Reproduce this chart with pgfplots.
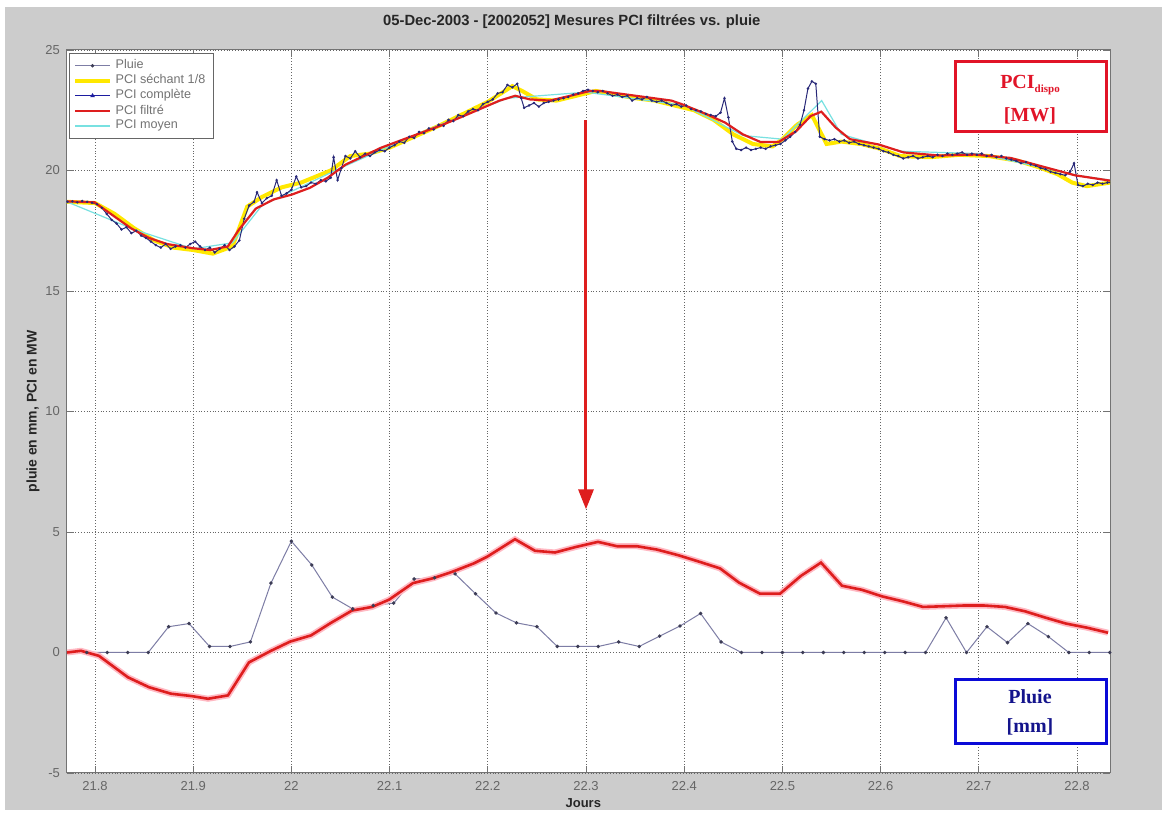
\documentclass[border=0pt]{standalone}
\usepackage{fontspec}
\setmainfont{Liberation Sans}
\newfontfamily\serifbf{Liberation Serif}
\usepackage{pgfplots}
\pgfplotsset{compat=1.18}
\usetikzlibrary{arrows.meta}
\definecolor{figgray}{RGB}{204,204,204}
\definecolor{pluiec}{RGB}{125,125,165}
\definecolor{pluiem}{RGB}{60,60,85}
\definecolor{sechc}{RGB}{255,232,0}
\definecolor{compc}{RGB}{40,40,120}
\definecolor{filtc}{RGB}{222,30,30}
\definecolor{glowc}{RGB}{255,185,195}
\definecolor{moyc}{RGB}{120,225,225}
\definecolor{boxred}{RGB}{225,20,40}
\definecolor{boxblue}{RGB}{10,10,215}
\definecolor{txtblue}{RGB}{20,20,140}

\pgfplotstableread{
x y
21.7917 0
21.8125 0
21.8333 0
21.8542 0
21.8750 1.07
21.8958 1.20
21.9167 0.25
21.9375 0.25
21.9583 0.44
21.9792 2.88
22.0000 4.62
22.0208 3.63
22.0417 2.30
22.0625 1.81
22.0833 1.95
22.1042 2.05
22.1250 3.05
22.1458 3.10
22.1667 3.26
22.1875 2.44
22.2083 1.64
22.2292 1.23
22.2500 1.07
22.2708 0.25
22.2917 0.25
22.3125 0.25
22.3333 0.44
22.3542 0.25
22.3750 0.68
22.3958 1.10
22.4167 1.62
22.4375 0.44
22.4583 0
22.4792 0
22.5000 0
22.5208 0
22.5417 0
22.5625 0
22.5833 0
22.6042 0
22.6250 0
22.6458 0
22.6667 1.44
22.6875 0
22.7083 1.07
22.7292 0.41
22.7500 1.20
22.7708 0.66
22.7917 0
22.8125 0
22.8333 0
}\pluie

\pgfplotstableread{
x y
21.7715 0.00
21.7857 0.07
21.8041 -0.14
21.8336 -1.03
21.8550 -1.44
21.8774 -1.71
21.8988 -1.81
21.9151 -1.92
21.9354 -1.78
21.9568 -0.41
21.9792 0.07
21.9986 0.45
22.0200 0.71
22.0403 1.23
22.0617 1.74
22.0821 1.89
22.0994 2.19
22.1238 2.88
22.1442 3.08
22.1646 3.36
22.1859 3.70
22.1992 3.97
22.2277 4.70
22.2481 4.22
22.2684 4.15
22.2898 4.38
22.3122 4.59
22.3316 4.41
22.3519 4.41
22.3723 4.27
22.3937 4.04
22.4151 3.77
22.4365 3.49
22.4558 2.90
22.4772 2.44
22.4976 2.44
22.5189 3.18
22.5393 3.73
22.5607 2.77
22.5811 2.60
22.6014 2.33
22.6228 2.12
22.6432 1.89
22.6646 1.92
22.6849 1.95
22.7053 1.95
22.7267 1.89
22.7470 1.71
22.7684 1.44
22.7888 1.20
22.8102 1.03
22.8316 0.82
}\lowred

\pgfplotstableread{
x y
21.7715 18.70
21.800 18.65
21.820 18.20
21.840 17.60
21.860 17.10
21.880 16.80
21.900 16.70
21.920 16.55
21.940 16.85
21.955 18.50
21.970 18.90
21.990 19.30
22.010 19.50
22.040 20.00
22.060 20.60
22.080 20.70
22.100 20.95
22.125 21.40
22.150 21.85
22.175 22.35
22.200 22.85
22.225 23.50
22.235 23.30
22.250 22.95
22.270 22.90
22.290 23.10
22.310 23.30
22.330 23.15
22.350 23.00
22.370 22.90
22.390 22.70
22.410 22.50
22.430 22.10
22.450 21.50
22.470 21.10
22.490 21.00
22.500 21.30
22.515 21.90
22.530 22.30
22.545 21.10
22.560 21.20
22.580 21.10
22.600 20.90
22.620 20.60
22.650 20.55
22.680 20.65
22.710 20.60
22.740 20.40
22.760 20.15
22.780 19.85
22.795 19.50
22.810 19.35
22.834 19.50
}\sechant

\pgfplotstableread{
x y
21.7715 18.72
21.7995 18.68
21.8195 18.10
21.8368 17.60
21.8550 17.20
21.8733 16.95
21.8988 16.78
21.9170 16.70
21.9353 16.85
21.9465 17.54
21.9638 18.42
21.9820 18.80
22.0004 19.00
22.0188 19.28
22.0370 19.70
22.0554 20.25
22.0737 20.60
22.0910 20.94
22.1094 21.22
22.1280 21.50
22.1510 21.85
22.1720 22.20
22.1920 22.55
22.2120 22.90
22.2280 23.10
22.2430 22.95
22.2630 22.90
22.2840 23.10
22.3040 23.30
22.3143 23.30
22.3506 23.10
22.3870 22.90
22.3977 22.75
22.4232 22.33
22.4415 21.99
22.4597 21.50
22.4779 21.18
22.4961 21.18
22.5143 21.64
22.5288 22.26
22.5397 22.44
22.5543 21.78
22.5688 21.30
22.5980 21.08
22.6234 20.75
22.6598 20.62
22.6961 20.66
22.7325 20.52
22.7689 20.12
22.7980 19.80
22.8336 19.58
}\filtre

\pgfplotstableread{
x y
21.7715 18.70
21.840 17.55
21.900 16.75
21.940 17.00
21.970 18.55
22.050 20.10
22.130 21.55
22.220 23.00
22.300 23.25
22.400 22.70
22.460 21.45
22.500 21.30
22.540 22.90
22.560 21.50
22.620 20.80
22.700 20.70
22.800 19.80
22.834 19.60
}\moyen

\pgfplotstableread{
x y
21.772 18.70
21.777 18.72
21.782 18.68
21.787 18.73
21.792 18.70
21.797 18.66
21.802 18.60
21.807 18.45
21.812 18.20
21.817 17.95
21.822 17.80
21.827 17.55
21.832 17.65
21.837 17.40
21.842 17.50
21.847 17.30
21.852 17.20
21.857 17.05
21.862 16.90
21.867 16.80
21.872 16.95
21.877 16.75
21.882 16.85
21.887 16.90
21.892 16.80
21.897 16.95
21.902 17.05
21.907 16.85
21.912 16.70
21.917 16.80
21.922 16.60
21.927 16.75
21.932 16.90
21.937 16.70
21.942 16.85
21.947 17.10
21.952 18.00
21.957 18.55
21.962 18.70
21.965 19.10
21.970 18.65
21.975 18.85
21.980 18.95
21.985 19.60
21.990 18.95
21.995 19.05
22.000 19.20
22.005 19.75
22.010 19.30
22.015 19.35
22.020 19.50
22.025 19.45
22.030 19.60
22.035 19.55
22.040 19.70
22.043 20.55
22.047 19.60
22.051 20.10
22.055 20.60
22.060 20.50
22.065 20.80
22.070 20.55
22.075 20.70
22.080 20.60
22.085 20.75
22.090 20.85
22.095 20.80
22.100 20.95
22.105 21.05
22.110 21.20
22.115 21.15
22.120 21.40
22.125 21.35
22.130 21.60
22.135 21.55
22.140 21.75
22.145 21.70
22.150 21.90
22.155 21.85
22.160 22.10
22.165 22.05
22.170 22.30
22.175 22.25
22.180 22.45
22.185 22.55
22.190 22.50
22.195 22.75
22.200 22.85
22.205 22.95
22.210 23.20
22.215 23.25
22.220 23.55
22.225 23.45
22.230 23.60
22.234 23.00
22.237 22.60
22.242 22.70
22.247 22.80
22.252 22.65
22.257 22.80
22.262 22.85
22.267 22.90
22.272 22.95
22.277 23.00
22.282 23.05
22.287 23.15
22.292 23.20
22.297 23.30
22.302 23.35
22.307 23.30
22.312 23.25
22.317 23.30
22.322 23.20
22.327 23.10
22.332 23.15
22.337 23.05
22.342 23.10
22.347 22.90
22.352 23.00
22.357 22.95
22.362 23.05
22.367 22.90
22.372 22.85
22.377 22.90
22.382 22.80
22.387 22.70
22.392 22.75
22.397 22.65
22.402 22.70
22.407 22.55
22.412 22.50
22.417 22.45
22.422 22.35
22.427 22.30
22.432 22.25
22.437 22.40
22.441 23.00
22.445 22.20
22.449 21.20
22.453 20.90
22.458 20.85
22.463 20.95
22.468 20.85
22.473 20.90
22.478 20.95
22.483 20.90
22.488 21.00
22.493 21.05
22.498 21.10
22.503 21.25
22.508 21.40
22.513 21.60
22.518 21.90
22.522 22.50
22.526 23.40
22.530 23.70
22.534 23.60
22.538 21.40
22.543 21.30
22.548 21.25
22.553 21.30
22.558 21.20
22.563 21.25
22.568 21.15
22.573 21.20
22.578 21.10
22.583 21.05
22.588 21.00
22.593 20.95
22.598 20.90
22.603 20.80
22.608 20.75
22.613 20.65
22.618 20.60
22.623 20.50
22.628 20.55
22.633 20.60
22.638 20.50
22.643 20.55
22.648 20.60
22.653 20.55
22.658 20.65
22.663 20.60
22.668 20.70
22.673 20.65
22.678 20.70
22.683 20.75
22.688 20.65
22.693 20.70
22.698 20.65
22.703 20.70
22.708 20.60
22.713 20.65
22.718 20.55
22.723 20.60
22.728 20.50
22.733 20.45
22.738 20.40
22.743 20.30
22.748 20.35
22.753 20.25
22.758 20.20
22.763 20.10
22.768 20.05
22.773 19.95
22.778 19.90
22.783 19.85
22.788 19.80
22.793 19.95
22.797 20.30
22.801 19.40
22.806 19.35
22.811 19.45
22.816 19.40
22.821 19.50
22.826 19.45
22.831 19.50
22.834 19.50
}\complete

\begin{document}
\begin{tikzpicture}
% figure background (image pixel frame 1162 x 810, 1 px = 0.5pt)
\fill[white] (-33.5pt,-18.5pt) rectangle (547.5pt,386.5pt);
\fill[figgray] (-31pt,-18.5pt) rectangle (547.5pt,383pt);
\begin{axis}[
  at={(0pt,0pt)}, anchor=south west,
  scale only axis, width=521.5pt, height=361.5pt,
  xmin=21.7715, xmax=22.8336, ymin=-5, ymax=25,
  axis background/.style={fill=white},
  xtick={21.8,21.9,22,22.1,22.2,22.3,22.4,22.5,22.6,22.7,22.8},
  xticklabels={21.8,21.9,22,22.1,22.2,22.3,22.4,22.5,22.6,22.7,22.8},
  ytick={-5,0,5,10,15,20,25},
  /pgf/number format/assume math mode=true,
  tick align=inside, major tick length=3.5pt,
  tick style={black!55, line width=0.4pt},
  axis line style={black!55, line width=0.5pt},
  ticklabel style={font=\fontsize{6.5}{7}\selectfont, text=black!60},
  xticklabel style={yshift=-0.5pt},
  grid=major,
  major grid style={densely dotted, black!60, line width=0.4pt},
  title={05-Dec-2003 - [2002052] Mesures PCI filtrées vs. pluie},
  title style={at={(axis description cs:0.484,1)}, anchor=center, yshift=8pt,
    font=\bfseries\fontsize{7.4}{8}\selectfont, text=black!85},
  xlabel={Jours},
  xlabel style={at={(axis description cs:0.495,0)}, anchor=center, yshift=-15pt,
    font=\bfseries\fontsize{6.5}{7}\selectfont, text=black!85},
  ylabel={pluie en mm, PCI en MW},
  ylabel style={at={(axis description cs:-0.0326,0.5)}, anchor=center,
    font=\bfseries\fontsize{7}{8}\selectfont, text=black!85},
  legend style={at={(axis description cs:0.002,0.996)}, anchor=north west,
    draw=black!60, fill=white, font=\fontsize{6.3}{7}\selectfont,
    text=black!55, row sep=-2.6pt, inner xsep=2pt, inner ysep=1.2pt},
  legend cell align=left,
]
% upper group: PCI
\addplot[sechc, line width=2pt, forget plot] table {\sechant};
\addplot[moyc, line width=0.6pt, forget plot] table {\moyen};
\addplot[compc, line width=0.5pt, mark=*, mark size=0.35pt, forget plot] table {\complete};
\addplot[filtc, line width=1.1pt, forget plot] table {\filtre};
% lower group
\addplot[pluiec, line width=0.5pt, mark=*, mark size=0.6pt,
  mark options={fill=pluiem, draw=pluiem}, forget plot] table {\pluie};
\addplot[glowc, line width=3pt, forget plot] table {\lowred};
\addplot[filtc, line width=1.3pt, forget plot] table {\lowred};
% legend
\addlegendimage{pluiec, line width=0.5pt, mark=*, mark size=0.6pt, mark options={fill=pluiem,draw=pluiem}}
\addlegendentry{Pluie}
\addlegendimage{sechc, line width=2pt}
\addlegendentry{PCI séchant 1/8}
\addlegendimage{compc!70!blue, line width=0.5pt, mark=triangle*, mark size=0.9pt}
\addlegendentry{PCI complète}
\addlegendimage{filtc, line width=1.3pt}
\addlegendentry{PCI filtré}
\addlegendimage{moyc, line width=0.8pt}
\addlegendentry{PCI moyen}
% annotation arrow
\draw[filtc, line width=1.5pt, -{Triangle[length=10pt,width=7.5pt]}]
  (axis cs:22.3,22.09) -- (axis cs:22.3,5.94);
\end{axis}
% annotation boxes, in image pixel coordinates
\begin{scope}[x=0.5pt, y=-0.5pt, shift={(-33.5pt,386.5pt)}]
  \draw[boxred, line width=1.5pt, fill=white] (955,62) rectangle (1106,132);
  \node[text=boxred, font=\serifbf\bfseries\fontsize{10}{11}\selectfont] at (1030,85)
    {PCI\raisebox{-0.45ex}{\fontsize{5.5}{6}\selectfont dispo}};
  \node[text=boxred, font=\serifbf\bfseries\fontsize{10}{11}\selectfont] at (1030,116) {[MW]};
  \draw[boxblue, line width=1.5pt, fill=white] (955,680) rectangle (1106,744);
  \node[text=txtblue, font=\serifbf\bfseries\fontsize{10}{11}\selectfont] at (1030,697) {Pluie};
  \node[text=txtblue, font=\serifbf\bfseries\fontsize{10}{11}\selectfont] at (1030,727) {[mm]};
\end{scope}
\end{tikzpicture}
\end{document}
